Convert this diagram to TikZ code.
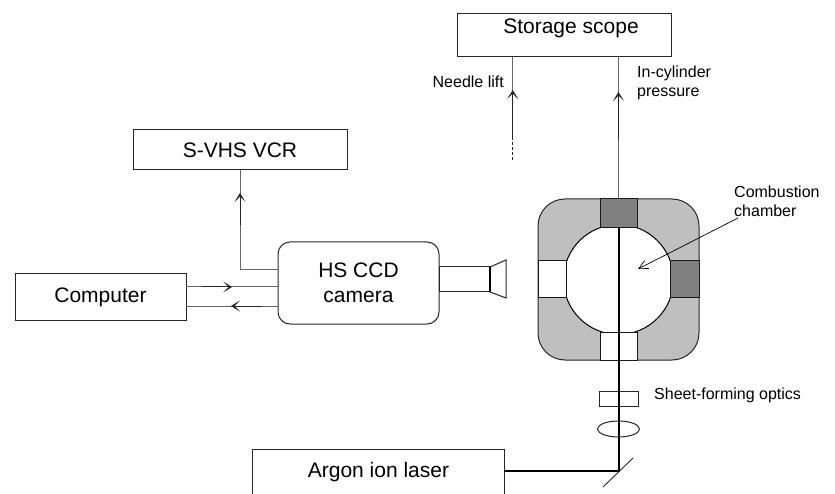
\documentclass[tikz,border=0pt]{standalone}
\usepackage{fontspec}
\setmainfont{Liberation Sans}
\usetikzlibrary{arrows.meta,calc,shapes.geometric}
\tikzset{
 x=1pt,y=-1pt,
 box/.style={draw=black!85,line width=1pt,inner sep=0pt,font=\fontsize{21}{25}\selectfont,align=center},
 small/.style={font=\fontsize{16}{19}\selectfont,align=left,inner sep=0pt},
 sig/.style={draw=black!60,line width=1pt},
 tip/.style={-{Stealth[inset=5.5pt,length=9pt,width=11pt,line width=.4pt]},draw=black!85,line width=1pt},
 beam/.style={draw=black,line width=2pt},
 part/.style={draw=black!85,line width=1pt},
 pane/.style={draw=black!90,line width=1pt,inner sep=0pt},
}
\begin{document}
\begin{tikzpicture}
\useasboundingbox (0,0) rectangle (835,494);
% boxes
\node[box,minimum width=214pt,minimum height=43pt] (scope) at (564.5,35.5) {};
\node[font=\fontsize{21}{25}\selectfont,inner sep=0pt] (scopetext) at (571,28) {Storage scope};
\node[box,minimum width=214pt,minimum height=40pt] (vcr) at (240,150) {S-VHS VCR};
\node[box,minimum width=171pt,minimum height=47pt] (computer) at (100.5,297) {Computer};
\node[box,rounded corners=12pt,minimum width=161pt,minimum height=82pt] (camera) at (358.5,283) {HS CCD\\camera};
\node[box,minimum width=51pt,minimum height=25pt] (barrel) at (464.5,279.5) {};
\node[font=\fontsize{21}{25}\selectfont,inner sep=0pt,minimum width=251pt,minimum height=44pt] (laser) at (378.5,472) {Argon ion laser};
\draw[part] (laser.south west) -- (laser.north west) -- (laser.north east) -- (laser.south east);
% lens cone
\coordinate (c1) at (490,267); \coordinate (c2) at (506,260); \coordinate (c3) at (506,298); \coordinate (c4) at (490,292);
\draw[part] (c1) -- (c2) -- (c3) -- (c4);
\draw[line width=1.6pt,draw=black] (c1) -- (c4);
% chamber
\node[draw=black!85,line width=1pt,fill=black!25,rounded corners=27pt,minimum width=161pt,minimum height=161pt,inner sep=0pt] (chamber) at (618.5,279.5) {};
\node[circle,draw=black,line width=1pt,fill=white,minimum size=110pt,inner sep=0pt] (bore) at (618.5,279.5) {};
\node[pane,fill=black!50,minimum width=37pt,minimum height=29pt] (wtop) at (618.5,213.5) {};
\node[pane,fill=white,minimum width=37pt,minimum height=28pt] (wbot) at (618.5,346) {};
\node[pane,fill=white,minimum width=28pt,minimum height=37pt] (wleft) at (552,279.5) {};
\node[pane,fill=black!50,minimum width=29pt,minimum height=37pt] (wright) at (684.5,279.5) {};
% optics
\node[part,draw,minimum width=39pt,minimum height=15pt,inner sep=0pt] (sheet) at (618.5,398.5) {};
\node[part,ellipse,draw,minimum width=42pt,minimum height=16pt,inner sep=0pt] (lens) at (618.5,429) {};
\coordinate (mirrorA) at (603,487); \coordinate (mirrorB) at (633,458);
\draw[draw=black!85,line width=.9pt] (mirrorA) -- (mirrorB);
\coordinate (bend) at (619,471);
% beam
\draw[beam] (laser.east) ++(0,-1) coordinate (lout) -- (bend |- lout) -- (bend |- wtop.south);
\draw[sig] (wtop.north) -- (wtop.north |- scope.south);
% signal lines
\coordinate (npeak) at (512.7,90); \coordinate (ptip) at (618.5,92);
\coordinate (nend) at (512.7,161); \coordinate (ndash) at (512.7,137);
\draw[sig] (npeak) -- (npeak |- scope.south);
\draw[tip] (ndash) -- (npeak);
\draw[draw=black!85,line width=.8pt,densely dashed] (ndash) -- (nend);
\coordinate (pfade) at (618.5,140);
\draw[tip] (pfade) -- (ptip);
% VCR
\coordinate (vbend) at (240,270); \coordinate (vtip) at (240,193); \coordinate (vfade) at (240,225);
\draw[sig] (camera.west |- vbend) -- (vbend) -- (vcr.south);
\draw[tip] (vfade) -- (vtip);
% computer
\coordinate (ca) at (186,287); \coordinate (cb) at (186,306);
\draw[sig] (ca) -- (camera.west |- ca);
\draw[sig] (cb) -- (camera.west |- cb);
\coordinate (cat) at (232,287); \coordinate (cbt) at (231,306);
\coordinate (cas) at (202,287); \coordinate (cbs) at (262,306);
\draw[tip] (cas) -- (cat);
\draw[tip] (cbs) -- (cbt);
% labels
\node[small,anchor=east] (needle) at (504,82) {Needle lift};
\node[small,anchor=west] (press) at (637,82.5) {In-cylinder\\pressure};
\node[small,anchor=west] (comb) at (734,201) {Combustion\\chamber};
\node[small,anchor=west] (sfo) at (654,395) {Sheet-forming optics};
\coordinate (carrow) at (738,218);
\coordinate (ctip) at (638,269);
\draw[-{Straight Barb[length=9pt,width=9pt]},draw=black,line width=.7pt] (carrow) -- (ctip);
\end{tikzpicture}
\end{document}
